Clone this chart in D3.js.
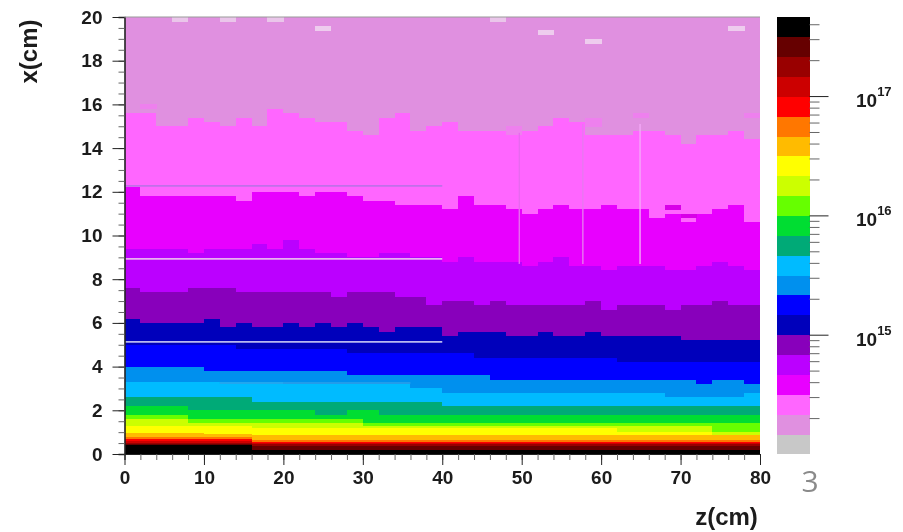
<!DOCTYPE html>
<html><head><meta charset="utf-8">
<script src="https://cdn.jsdelivr.net/npm/d3@7"></script>
<style>html,body{margin:0;padding:0;background:#fff}svg{display:block}text{font-family:"Liberation Sans",Arial,sans-serif}</style>
</head><body><div id="chart"></div>
<script>
// colour levels, from the lowest (gray) to the highest (black)
const levelColors = ["#c8c8c8","#e090e0","#ff66ff","#e800ff","#bb00ff","#8800bb","#0000bb","#0000ff","#0090ee","#00bbff","#00aa77","#00dd33","#66ff00","#ccff00","#ffff00","#ffbb00","#ff7700","#ff0000","#cc0000","#990000","#660000","#000000"];
// upper edge (x in cm) of each level for every 2 cm z bin; level 1 reaches the top
const edge02 = [15.6,15.6,15,15,15.4,15.2,15,15.4,15,15.8,15.6,15.4,15.2,15.2,14.8,14.6,15.4,15.6,14.8,15,15.2,14.8,14.8,14.8,14.6,14.8,15,15.4,15.2,14.6,14.6,14.6,14.8,14.8,14.6,14.2,14.6,14.6,14.8,14.4];
const edge03 = [12.2,11.8,11.8,11.8,11.8,11.8,11.8,11.6,12,12,12,11.8,12,12,11.8,11.6,11.6,11.4,11.4,11.4,11.2,11.8,11.4,11.4,11.2,11,11.2,11.4,11.2,11.2,11.4,11.2,11.2,10.8,11,10.6,11,11.2,11.4,10.6];
const edge04 = [9.4,9.4,9.4,9.4,9.2,9.4,9.4,9.4,9.6,9.4,9.8,9.4,9.2,9.2,9,9,9.2,9.2,9,9,8.8,9,8.8,8.8,8.8,8.6,8.8,9,8.6,8.6,8.4,8.6,8.6,8.6,8.4,8.4,8.6,8.8,8.6,8.4];
const edge05 = [7.6,7.4,7.4,7.4,7.6,7.6,7.6,7.4,7.4,7.4,7.4,7.4,7.4,7.2,7.4,7.4,7.4,7.2,7.2,6.8,7,7,6.8,7,6.8,6.8,6.8,6.8,6.8,7,6.6,6.8,6.8,6.8,6.6,6.8,6.8,7,6.8,6.8];
const edge06 = [6.2,6,6,6,6,6.2,5.8,6,5.8,5.8,6,5.8,6,5.8,6,5.8,5.6,5.8,5.8,5.8,5.4,5.6,5.6,5.6,5.4,5.4,5.6,5.4,5.4,5.6,5.4,5.4,5.4,5.4,5.4,5.2,5.2,5.2,5.2,5.2];
const edge07 = [5,5,5,5,5,5,5,4.8,4.8,4.8,4.8,4.8,4.8,4.8,4.6,4.6,4.6,4.6,4.6,4.6,4.6,4.6,4.4,4.4,4.4,4.4,4.4,4.4,4.4,4.4,4.4,4.2,4.2,4.2,4.2,4.2,4.2,4.2,4.2,4.2];
const edge08 = [4,4,4,4,4,3.8,3.8,3.8,3.8,3.8,3.8,3.8,3.8,3.8,3.6,3.6,3.6,3.6,3.6,3.6,3.6,3.6,3.6,3.4,3.4,3.4,3.4,3.4,3.4,3.4,3.4,3.4,3.4,3.4,3.4,3.4,3.2,3.4,3.4,3.2];
const edge09 = [3.3,3.3,3.3,3.3,3.3,3.3,3.3,3.3,3.3,3.3,3.2,3.2,3.2,3.2,3.2,3.2,3.2,3.2,3,3,2.8,2.8,2.8,2.8,2.8,2.8,2.8,2.8,2.8,2.8,2.8,2.8,2.8,2.8,2.6,2.6,2.6,2.6,2.6,2.8];
const edge10 = [2.6,2.6,2.6,2.6,2.6,2.6,2.6,2.6,2.4,2.4,2.4,2.4,2.4,2.4,2.4,2.4,2.4,2.4,2.4,2.4,2.2,2.2,2.2,2.2,2.2,2.2,2.2,2.2,2.2,2.2,2.2,2.2,2.2,2.2,2.2,2.2,2.2,2.2,2.2,2.2];
const edge11 = [2.2,2.2,2.2,2.2,2,2,2,2,2,2,2,2,1.8,1.8,2,2,1.8,1.8,1.8,1.8,1.8,1.8,1.8,1.8,1.8,1.8,1.8,1.8,1.8,1.8,1.8,1.8,1.8,1.8,1.8,1.8,1.8,1.8,1.8,1.8];
const edge12 = [1.8,1.8,1.8,1.8,1.6,1.6,1.6,1.6,1.6,1.6,1.6,1.6,1.6,1.6,1.6,1.4,1.4,1.4,1.4,1.4,1.4,1.4,1.4,1.4,1.4,1.4,1.4,1.4,1.4,1.4,1.4,1.4,1.4,1.4,1.4,1.4,1.4,1.4,1.4,1.4];
const edge13 = [1.6,1.6,1.6,1.6,1.4,1.4,1.4,1.4,1.4,1.4,1.4,1.4,1.4,1.4,1.4,1.3,1.3,1.3,1.3,1.3,1.3,1.3,1.3,1.3,1.3,1.3,1.3,1.3,1.3,1.3,1.3,1.3,1.3,1.3,1.3,1.3,1.3,1,1,1];
const edge14 = [1.3,1.3,1.3,1.3,1.3,1.3,1.3,1.3,1.2,1.2,1.2,1.2,1.2,1.2,1.2,1.2,1.2,1.2,1.2,1.2,1.2,1.2,1.2,1.2,1.2,1.2,1.2,1.2,1.2,1.2,1.2,1,1,1,1,1,1,.85,.85,.85];
const edge15 = [.95,.95,.95,.95,.95,.9,.9,.9,.85,.85,.85,.85,.85,.85,.85,.85,.85,.85,.85,.85,.85,.85,.85,.85,.85,.85,.85,.85,.85,.85,.85,.85,.85,.85,.85,.85,.85,.85,.85,.85];
const edge16 = [.8,.8,.8,.8,.8,.8,.8,.8,.65,.65,.65,.65,.65,.65,.65,.65,.65,.65,.65,.65,.65,.65,.65,.65,.65,.65,.65,.65,.65,.65,.65,.65,.65,.65,.65,.65,.65,.65,.65,.65];
const edge17 = [.7,.7,.7,.7,.7,.7,.7,.7,.55,.55,.55,.55,.55,.55,.55,.55,.55,.55,.55,.55,.55,.55,.55,.55,.55,.55,.55,.55,.55,.55,.55,.55,.55,.55,.55,.55,.55,.55,.55,.55];
const edge18 = [.6,.6,.6,.6,.6,.6,.6,.6,.52,.52,.52,.52,.52,.52,.52,.52,.52,.52,.52,.52,.52,.52,.52,.52,.5,.5,.5,.5,.5,.5,.5,.5,.5,.5,.5,.5,.5,.5,.5,.5];
const edge19 = [.52,.52,.52,.52,.52,.52,.52,.52,.46,.46,.46,.46,.46,.46,.46,.46,.46,.46,.46,.46,.46,.46,.46,.46,.46,.46,.46,.46,.46,.46,.46,.46,.46,.46,.46,.46,.46,.46,.46,.46];
const edge20 = [.46,.46,.46,.46,.46,.46,.46,.46,.36,.36,.36,.36,.36,.36,.36,.36,.36,.36,.36,.36,.36,.36,.36,.36,.36,.36,.36,.36,.36,.36,.36,.36,.36,.36,.36,.36,.36,.36,.36,.36];
const edge21 = [.4,.4,.4,.4,.4,.4,.4,.4,.2,.2,.2,.2,.2,.2,.2,.2,.2,.2,.2,.2,.2,.2,.2,.2,.2,.2,.2,.2,.2,.2,.2,.2,.2,.2,.2,.2,.2,.2,.2,.2];
const levelEdges = [edge21,edge20,edge19,edge18,edge17,edge16,edge15,edge14,edge13,edge12,edge11,edge10,edge09,edge08,edge07,edge06,edge05,edge04,edge03,edge02];
// single bins that break the contours: [bin, x from, x to, colour]
const strayBins = [[3,19.8,20,"#eac6ea"],[6,19.8,20,"#eac6ea"],[9,19.8,20,"#eac6ea"],[12,19.4,19.6,"#eeccee"],[23,19.8,20,"#eac6ea"],[26,19.2,19.4,"#eeccee"],[29,18.8,19,"#eeccee"],[38,19.4,19.6,"#eeccee"],
 [1,15.8,16,"#ee80ee"],[24,14.6,15,"#ee80ee"],[29,15,15.4,"#ee80ee"],[32,15.4,15.6,"#ee80ee"],[39,15.4,15.6,"#ee80ee"],[34,11.2,11.4,"#d800e8"],[35,10.8,11,"#d800e8"]];
const hStreaks = [[12.27,0,40,"#c070e8"],[8.93,0,40,"#e8b0f0"],[5.13,0,40,"#b8b8f0"],[3.25,12,36,"#30a0e8"]];
const vStreaks = [[49.7,14.7,8.7,"#e868f0"],[57.7,15.1,8.7,"#e878f0"],[64.9,15.1,8.7,"#f4a8f8"]];
const colorbarExtent = [1e14,4.6e17];
const colorbarMinor = [2e14,3e14,4e14,5e14,6e14,7e14,8e14,9e14,2e15,3e15,4e15,5e15,6e15,7e15,8e15,9e15,2e16,3e16,4e16,5e16,6e16,7e16,8e16,9e16,2e17,3e17,4e17];
const colorbarMajor = [1e15,1e16,1e17];
const decadeLabels = ["15","16","17"];
const xTicksMajor = d3.range(0,81,10), yTicksMajor = d3.range(0,21,2);
const xTicksMinor = d3.range(0,81,2), yTicksMinor = d3.range(0,20.01,.5);

const W=903,H=532;
const svg=d3.select("#chart").append("svg").attr("width",W).attr("height",H);
const x=d3.scaleLinear().domain([0,80]).range([124.5,760]);
const y=d3.scaleLinear().domain([0,20]).range([454,17]);
const c=d3.scaleLog().domain(colorbarExtent).range([454,17]);
const soft=svg.append("defs").append("filter").attr("id","soft").attr("x",0).attr("y",0).attr("width",1).attr("height",1);
soft.append("feGaussianBlur").attr("stdDeviation",.7);
const root=svg.append("g").attr("filter","url(#soft)");
root.append("rect").attr("width",W).attr("height",H).attr("fill","#fff");

// heat map
const binW=x(2)-x(0);
const cells=[];
d3.range(40).forEach(b=>{
  let top=20;
  levelEdges.slice().reverse().forEach((e,i)=>{cells.push({b,x1:top,x0:e[b],fill:levelColors[i+1]});top=e[b];});
  cells.push({b,x1:top,x0:0,fill:levelColors[21]});
});
strayBins.forEach(([b,x0,x1,fill])=>cells.push({b,x0,x1,fill}));
root.append("g").selectAll("rect").data(cells).join("rect")
 .attr("x",d=>x(d.b*2)).attr("width",binW+.4)
 .attr("y",d=>y(d.x1)).attr("height",d=>y(d.x0)-y(d.x1)+.4)
 .attr("fill",d=>d.fill).attr("shape-rendering","crispEdges");
root.append("g").selectAll("line").data(hStreaks).join("line")
 .attr("x1",d=>x(d[1])).attr("x2",d=>x(d[2])).attr("y1",d=>y(d[0])).attr("y2",d=>y(d[0]))
 .attr("stroke",d=>d[3]).attr("stroke-width",1.6);
root.append("g").selectAll("line").data(vStreaks).join("line")
 .attr("x1",d=>x(d[0])).attr("x2",d=>x(d[0])).attr("y1",d=>y(d[1])).attr("y2",d=>y(d[2]))
 .attr("stroke",d=>d[3]).attr("stroke-width",1.4);

// axes
const tickStyle=g=>{g.selectAll("text").attr("font-size",19).attr("font-weight","bold").attr("fill","#1a1a1a");g.selectAll("line,path").attr("stroke","#222");g.attr("font-family",null);};
const minorStyle=g=>{g.selectAll("line").attr("stroke","#666");};
const gx=root.append("g").attr("transform","translate(0,454)");
gx.append("g").call(d3.axisBottom(x).tickValues(xTicksMinor).tickSize(6).tickFormat("")).call(tickStyle).call(minorStyle);
gx.append("g").call(d3.axisBottom(x).tickValues(xTicksMajor).tickSize(11).tickPadding(6)).call(g=>g.select(".domain").remove()).call(tickStyle);
const gy=root.append("g").attr("transform","translate(124.5,0)");
gy.append("g").call(d3.axisLeft(y).tickValues(yTicksMinor).tickSize(6).tickFormat("")).call(tickStyle).call(minorStyle).call(g=>g.select(".domain").attr("stroke-width",1.6));
gy.append("g").call(d3.axisLeft(y).tickValues(yTicksMajor).tickSize(12).tickPadding(10)).call(g=>g.select(".domain").remove()).call(tickStyle);
root.append("line").attr("x1",x(0)).attr("x2",x(80)).attr("y1",y(20)).attr("y2",y(20)).attr("stroke","#999");

// colour bar
const barY=d3.scaleLinear().domain([0,levelColors.length]).range([454,17]);
root.append("g").selectAll("rect").data(levelColors).join("rect")
 .attr("x",777).attr("width",32.5).attr("y",(d,i)=>barY(i+1)).attr("height",(d,i)=>barY(i)-barY(i+1)+.4)
 .attr("fill",d=>d).attr("shape-rendering","crispEdges");
const gc=root.append("g").attr("transform","translate(809.5,0)");
gc.append("g").call(d3.axisRight(c).tickValues(colorbarMinor).tickSize(10).tickFormat("")).call(g=>g.select(".domain").remove()).call(tickStyle).call(minorStyle);
gc.append("g").call(d3.axisRight(c).tickValues(colorbarMajor).tickSize(19).tickFormat("")).call(g=>g.select(".domain").remove()).call(tickStyle);
const lab=root.append("g").selectAll("text").data(colorbarMajor).join("text")
 .attr("x",856).attr("y",d=>c(d)+11).attr("font-weight","bold").attr("fill","#1a1a1a").attr("font-size",19);
lab.append("tspan").text("10");
lab.append("tspan").text((d,i)=>decadeLabels[i]).attr("font-size",13).attr("dy",-11);

// titles
root.append("text").attr("transform","translate(37,51.5) rotate(-90)").attr("text-anchor","middle").attr("font-size",24).attr("font-weight","bold").attr("fill","#1a1a1a").text("x(cm)");
root.append("text").attr("x",726.5).attr("y",525).attr("text-anchor","middle").attr("font-size",24).attr("font-weight","bold").attr("fill","#1a1a1a").text("z(cm)");
root.append("text").attr("x",810).attr("y",492).attr("text-anchor","middle").attr("font-size",30).attr("fill","#8a8a8a").style("font-family","'Open Sans',sans-serif").text("3");
</script></body></html>
